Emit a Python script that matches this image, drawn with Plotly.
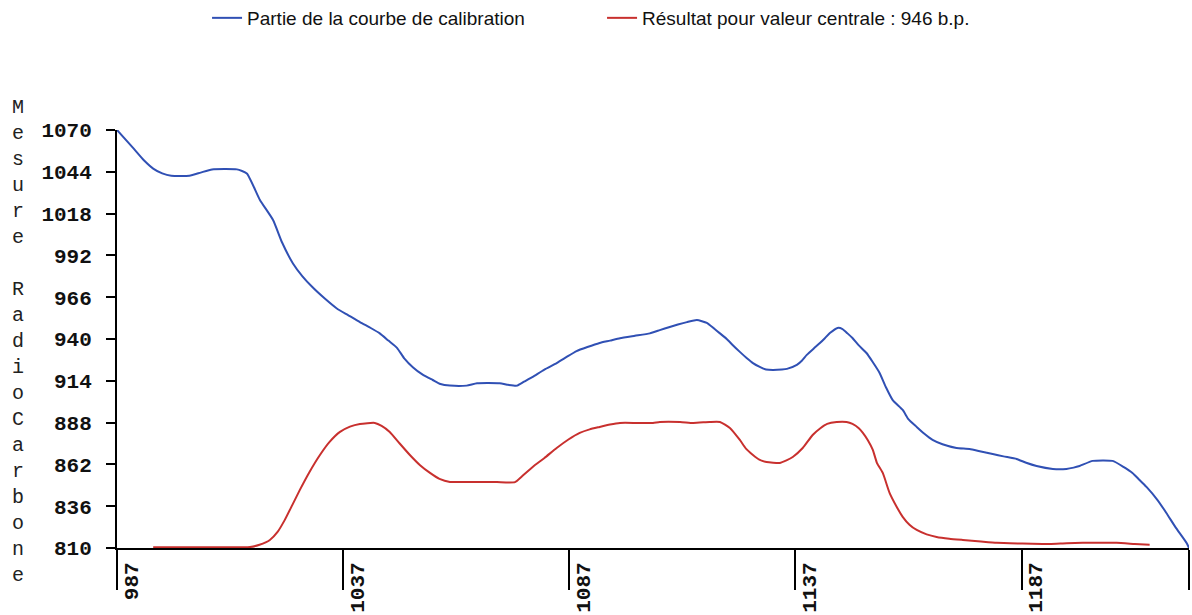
import plotly.graph_objects as go

# Calibration curve (blue)
calib_years = [987, 990.5, 993, 995, 997, 999, 1003, 1005.5, 1008, 1013.5, 1015.7, 1018.6, 1021.5, 1023.5,
               1025.9, 1028, 1030.3, 1033, 1035.6, 1038, 1040.7, 1043, 1045.1, 1047, 1048.9, 1050.5, 1052.4,
               1054.5, 1056.8, 1058.5, 1060.6, 1064.3, 1066.6, 1071.6, 1073.5, 1075.4, 1077, 1078.9, 1081.5,
               1084.2, 1086.5, 1088.6, 1091, 1093.7, 1096, 1098.2, 1101.5, 1104.8, 1107, 1109.2, 1111, 1113,
               1115.2, 1117.4, 1119, 1120.3, 1121.8, 1123.1, 1124.7, 1126.2, 1127.6, 1129.1, 1130.5, 1132, 1134,
               1135.1, 1137.3, 1138.4, 1139.5, 1141, 1142.4, 1143.5, 1144.6, 1146.3, 1147.4, 1148.5, 1149.6,
               1151, 1152.7, 1154, 1155.6, 1157, 1158.5, 1160.7, 1162, 1163.8, 1165.5, 1167.3, 1169.5, 1172.6,
               1175.5, 1178, 1180.6, 1183, 1185.9, 1188, 1190.3, 1193.9, 1196.9, 1198.5, 1199.8, 1202.7, 1207.1,
               1209.5, 1211.5, 1213, 1214.6, 1217, 1219, 1221, 1223.5, 1224]
calib_values = [1070, 1059, 1051, 1046, 1043, 1041.5, 1041.5, 1043.5, 1045.5, 1045.5, 1043, 1026.5, 1014, 1000,
                987, 979, 972, 965, 959, 955, 950.5, 947, 943.5, 939, 934.5, 928, 922.5,
                918, 914.5, 912, 911, 911, 912.5, 912.5, 911.5, 911, 913.5, 916.5, 921,
                925, 929, 932.5, 935, 937.5, 939, 940.5, 942, 943.5, 945.5, 947.5, 949, 950.5,
                951.8, 950, 946.5, 943.5, 940, 936.3, 932, 928.2, 925, 922.6, 921, 920.7, 921,
                921.4, 923.9, 926.5, 930.1, 934, 937.5, 940.5, 943.7, 946.9, 946.2, 943.5, 940.6,
                936, 931.3, 926, 918.9, 910, 902, 895.9, 890, 885.3, 881, 877.2, 874.5, 872.2,
                871.6, 870, 868.5, 867, 865.4, 863, 861, 859.2, 859.2, 860, 861, 864.2, 864.2,
                860.5, 856.7, 852.5, 848, 840, 831.8, 823, 813, 810]

# Result for central value (red)
result_years = [995, 1005, 1016.4, 1018.5, 1020.8, 1022.5, 1024.1, 1025.8, 1027.4, 1029.5, 1031.9, 1034,
                1036.3, 1038.5, 1040.7, 1044, 1045.5, 1047.3, 1049.5, 1051.7, 1054, 1056.2, 1058.3, 1060.6,
                1064, 1067.2, 1071, 1075, 1076.5, 1078.9, 1081.5, 1084.2, 1086.8, 1089.3, 1091.5, 1093.7,
                1096, 1098.2, 1102, 1105.5, 1107, 1111.5, 1114.4, 1118, 1120.3, 1122.5, 1124.7, 1126, 1127.6,
                1129, 1130.6, 1133.5, 1135, 1136.4, 1138.6, 1140.8, 1142.5, 1144, 1146.1, 1148.3, 1149.6,
                1151, 1151.9, 1153, 1154.1, 1155, 1156.3, 1157.8, 1159.3, 1160.7, 1162.2, 1163.8, 1166,
                1168.2, 1171, 1174, 1178, 1181.5, 1187, 1193.2, 1197, 1200.5, 1204, 1208, 1212, 1215.3]
result_values = [810.5, 810.5, 810.6, 812, 815, 820, 827.5, 837, 846, 857, 868, 876,
                 882.2, 885.5, 887.2, 887.8, 886, 882.2, 875, 868, 861.5, 856.7, 853, 851.1,
                 851.1, 851.1, 851, 851, 854.5, 860.4, 866, 872.2, 877.5, 881.6, 883.8, 885.3,
                 886.8, 887.8, 887.8, 887.8, 888.4, 888.4, 887.8, 888.4, 888.4, 884.7, 877.2, 872, 867.9,
                 865, 863.5, 862.9, 864.5, 866.6, 872.2, 880.3, 884.5, 887.2, 888.4, 888.4, 887.2,
                 884.5, 881.6, 877, 871, 863, 856.7, 844.3, 836, 829.4, 824.5, 821.2, 818.5,
                 816.9, 815.8, 815, 814, 813.2, 812.8, 812.5, 813, 813.2, 813.2, 813.2, 812.5, 812]

y_ticks = [810, 836, 862, 888, 914, 940, 966, 992, 1018, 1044, 1070]
x_ticks = [987, 1037, 1087, 1137, 1187, 1224]
x_tick_labels = ["987", "1037", "1087", "1137", "1187", ""]

y_title_letters = list("Mesure") + [" "] + list("RadioCarbone")

BLUE = "#3050b4"
RED = "#c8302e"

fig = go.Figure()
fig.add_trace(go.Scatter(x=calib_years, y=calib_values, mode="lines",
                         name="Partie de la courbe de calibration",
                         line=dict(color=BLUE, width=2, shape="spline", smoothing=0.5)))
fig.add_trace(go.Scatter(x=result_years, y=result_values, mode="lines",
                         name="Résultat pour valeur centrale : 946 b.p.",
                         line=dict(color=RED, width=2, shape="spline", smoothing=0.5)))

tick_font = dict(family="Liberation Mono", size=21, color="#111", weight="bold")

fig.update_layout(
    width=1192, height=615,
    margin=dict(l=117, r=3, t=130, b=67),
    paper_bgcolor="white", plot_bgcolor="white",
    showlegend=True,
    legend=dict(orientation="h", xref="container", yref="container",
                x=0.1737, y=1 - 18 / 615, xanchor="left", yanchor="middle",
                font=dict(family="Liberation Sans", size=19, color="#111"),
                entrywidth=350, bgcolor="rgba(0,0,0,0)"),
    xaxis=dict(range=[987, 1224], tickvals=x_ticks, ticktext=x_tick_labels,
               showgrid=False, zeroline=False, showline=True, linecolor="black", linewidth=2,
               ticks="outside", ticklen=40, tickwidth=2, tickcolor="black",
               tickangle=-90, tickfont=tick_font, automargin=False,
               ticklabelshift=14, ticklabelstandoff=-36),
    yaxis=dict(range=[810, 1070], tickvals=y_ticks,
               showgrid=False, zeroline=False, showline=True, linecolor="black", linewidth=2,
               ticks="outside", ticklen=9, tickwidth=2, tickcolor="black",
               tickfont=tick_font, ticklabelstandoff=10, automargin=False),
    yaxis2=dict(range=[810, 1070], tickvals=y_ticks, overlaying="y", side="left", anchor="x",
                showgrid=False, zeroline=False, showline=False,
                ticks="inside", ticklen=6, tickwidth=2, tickcolor="black",
                showticklabels=False, automargin=False),
    annotations=[dict(text="<br>".join(y_title_letters), xref="paper", yref="paper",
                      x=-0.0924, y=0.493, xanchor="center", yanchor="middle",
                      showarrow=False, align="center",
                      font=dict(family="Liberation Mono", size=20, color="#222"))],
)

fig.write_html("out.html", config={"displayModeBar": False},
               post_script="document.body.style.margin='0';document.body.style.overflow='hidden';")
